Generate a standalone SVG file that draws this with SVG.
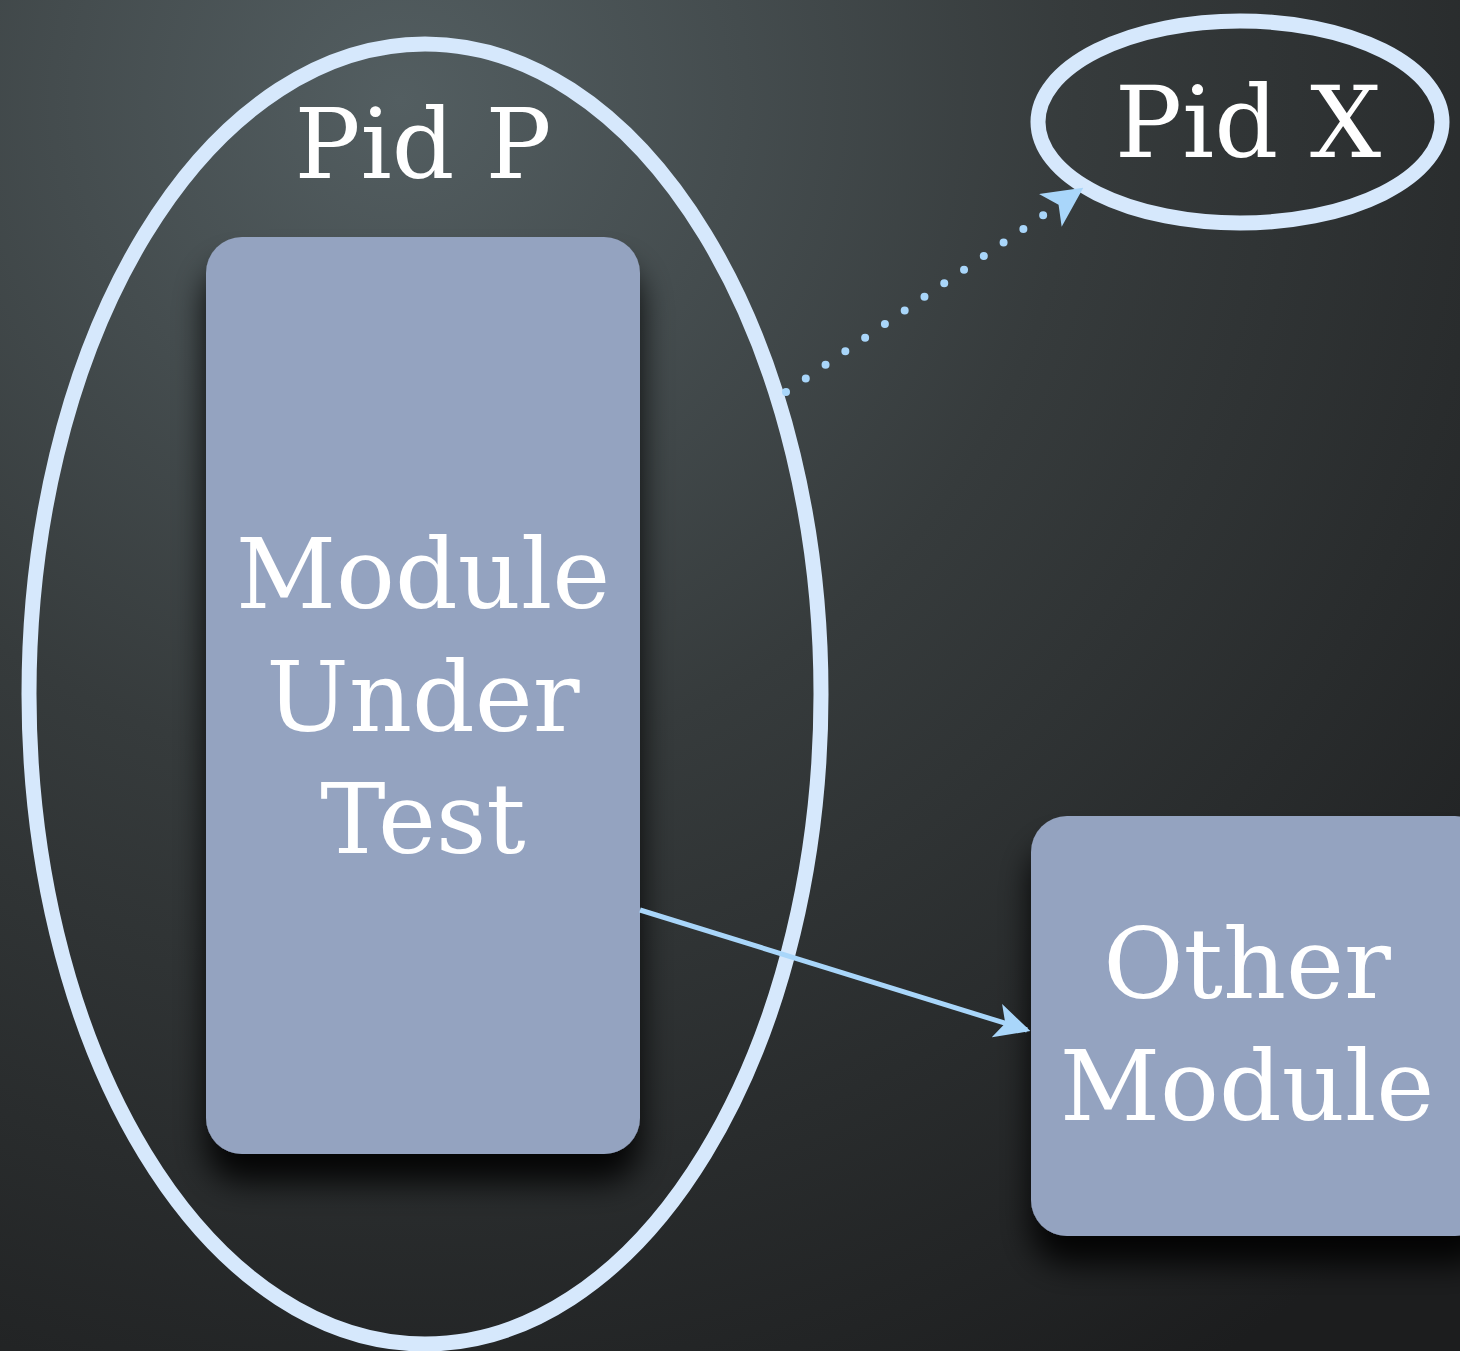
<svg xmlns="http://www.w3.org/2000/svg" width="1460" height="1351" viewBox="0 0 1460 1351">
  <defs>
    <radialGradient id="bg" cx="400" cy="100" r="1500" gradientUnits="userSpaceOnUse">
      <stop offset="0" stop-color="#535e61"/>
      <stop offset="0.45" stop-color="#363b3c"/>
      <stop offset="1" stop-color="#1c1d1e"/>
    </radialGradient>
    <filter id="shadow" x="-20%" y="-20%" width="140%" height="150%">
      <feDropShadow dx="0" dy="28" stdDeviation="16" flood-color="#000" flood-opacity="0.9"/>
    </filter>
    <marker id="arrow" viewBox="0 0 20 20" refX="18" refY="10" markerWidth="7" markerHeight="7" markerUnits="strokeWidth" orient="auto">
      <path d="M0,0 L20,10 L0,20 L5,10 Z" fill="#a9d6fa"/>
    </marker>
    <marker id="arrow2" viewBox="0 0 20 20" refX="18" refY="10" markerWidth="5" markerHeight="5" markerUnits="strokeWidth" orient="auto">
      <path d="M0,0 L20,10 L0,20 L5,10 Z" fill="#a9d6fa"/>
    </marker>
  </defs>
  <style>
    .box { fill: #94a3c0; filter: url(#shadow); }
    .ring { fill: none; stroke: #d6e8fc; }
    .label { font-family: "DejaVu Serif", "Liberation Serif", serif; fill: #ffffff; text-anchor: middle; }
    .conn { stroke: #a9d6fa; fill: none; }
  </style>
  <rect x="0" y="0" width="1460" height="1351" fill="url(#bg)"/>

  <g id="module-under-test">
    <rect class="box" x="206" y="237" width="434" height="917" rx="36"/>
    <text class="label" font-size="98" x="423" y="608">Module</text>
    <text class="label" font-size="98" x="423" y="731">Under</text>
    <text class="label" font-size="98" x="423" y="853">Test</text>
  </g>

  <g id="pid-p">
    <ellipse class="ring" stroke-width="15" cx="425" cy="694" rx="396" ry="650"/>
    <text class="label" font-size="98" x="423" y="178">Pid P</text>
  </g>

  <g id="pid-x">
    <ellipse class="ring" stroke-width="15" cx="1240" cy="122" rx="202" ry="101"/>
    <text class="label" font-size="100" x="1248" y="157">Pid X</text>
  </g>

  <g id="other-module">
    <rect class="box" x="1031" y="816" width="460" height="420" rx="36"/>
    <text class="label" font-size="98" x="1247" y="998">Other</text>
    <text class="label" font-size="98" x="1247" y="1120">Module</text>
  </g>

  <g id="connectors">
    <line class="conn" x1="640" y1="910" x2="1027" y2="1030" stroke-width="5" marker-end="url(#arrow)"/>
    <line class="conn" x1="786" y1="392" x2="1080" y2="190" stroke-width="8" stroke-linecap="round" stroke-dasharray="0 24" marker-end="url(#arrow2)"/>
  </g>
</svg>
